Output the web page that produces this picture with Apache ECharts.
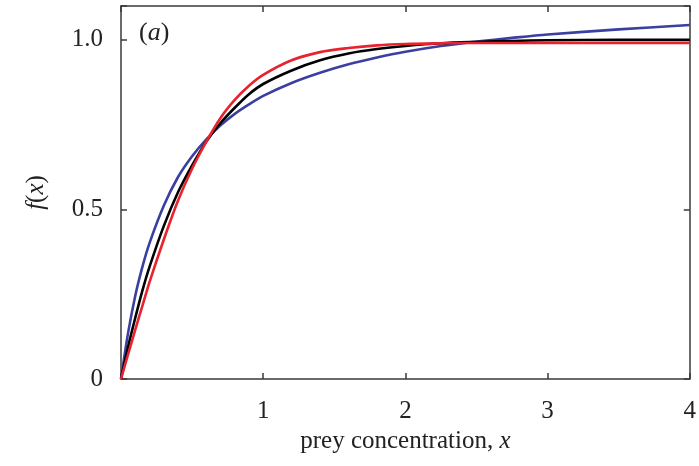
<!DOCTYPE html>
<html>
<head>
<meta charset="utf-8">
<script src="https://cdn.jsdelivr.net/npm/echarts@6/dist/echarts.min.js"></script>
<style>
html,body{margin:0;padding:0;background:#fff;}
#c{width:699px;height:466px;}
</style>
</head>
<body>
<div id="c"></div>
<script>
// prey concentration sample points
const xs = [0,0.05,0.1,0.15,0.2,0.3,0.4,0.5,0.6,0.7,0.8,0.9,1.0,1.2,1.4,1.6,1.8,2.0,2.25,2.5,2.75,3.0,3.5,4.0];
const blueVals  = [0,0.136,0.245,0.33,0.40,0.51,0.595,0.657,0.707,0.748,0.782,0.81,0.835,0.873,0.903,0.928,0.948,0.965,0.982,0.995,1.006,1.016,1.031,1.044];
const blackVals = [0,0.095,0.18,0.26,0.33,0.45,0.55,0.63,0.70,0.755,0.80,0.84,0.87,0.91,0.94,0.96,0.973,0.982,0.99,0.994,0.997,0.999,1.0,1.0];
const redVals   = [0,0.073,0.145,0.215,0.285,0.41,0.525,0.62,0.70,0.77,0.823,0.865,0.897,0.94,0.964,0.976,0.984,0.988,0.99,0.991,0.991,0.991,0.991,0.991];
const xTicks = [1,2,3,4];
const yTicks = [0,0.5,1.0];

function pairs(v){ return xs.map((x,i)=>[x,v[i]]); }

const font = '"Liberation Serif","DejaVu Serif",serif';
const axisCol = '#3a3a3a';
const chart = echarts.init(document.getElementById('c'));

function xLab(v){ return xTicks.indexOf(v) >= 0 ? String(v) : ''; }
function yLab(v){ if (v===0) return '0'; if (Math.abs(v-0.5)<1e-9) return '0.5'; if (Math.abs(v-1)<1e-9) return '1.0'; return ''; }

const lineSt = {show:true,onZero:false,lineStyle:{color:axisCol,width:1.5}};
const tickSt = {show:true,inside:true,length:6,lineStyle:{color:axisCol,width:1.5}};

chart.setOption({
  animation:false,
  backgroundColor:'#fff',
  grid:{left:121,right:6,top:6,bottom:87},
  xAxis:[{
    type:'value',min:0,max:4,interval:1,position:'bottom',
    axisLine:lineSt,axisTick:tickSt,
    axisLabel:{formatter:xLab,fontFamily:font,fontSize:25,color:'#222',margin:20},
    splitLine:{show:false},
    name:'prey concentration, {i|x}',nameLocation:'middle',nameGap:50,
    nameTextStyle:{fontFamily:font,fontSize:25,color:'#222',
      rich:{i:{fontFamily:font,fontStyle:'italic',fontSize:25,color:'#222'}}}
  },{
    type:'value',min:0,max:4,interval:1,position:'top',
    axisLine:lineSt,axisTick:tickSt,
    axisLabel:{show:false},splitLine:{show:false}
  }],
  yAxis:[{
    type:'value',min:0,max:1.1,interval:0.5,position:'left',
    axisLine:lineSt,axisTick:tickSt,
    axisLabel:{formatter:yLab,fontFamily:font,fontSize:25,color:'#222',margin:18},
    splitLine:{show:false},
    name:'{i|f}({i|x})',nameLocation:'middle',nameGap:72,nameRotate:90,
    nameTextStyle:{fontFamily:font,fontSize:25,color:'#222',
      rich:{i:{fontFamily:font,fontStyle:'italic',fontSize:25,color:'#222'}}}
  },{
    type:'value',min:0,max:1.1,interval:0.5,position:'right',
    axisLine:lineSt,axisTick:tickSt,
    axisLabel:{show:false},splitLine:{show:false}
  }],
  graphic:[{
    type:'text',left:139,top:20,
    style:{text:'({i|a})',font:'26px '+font,fill:'#222',
      rich:{i:{fontFamily:font,fontStyle:'italic',fontSize:26,fill:'#222'}}}
  }],
  series:[
    {type:'line',data:pairs(blueVals),smooth:0.3,showSymbol:false,lineStyle:{color:'#3a3fa0',width:2.6},z:2},
    {type:'line',data:pairs(blackVals),smooth:0.3,showSymbol:false,lineStyle:{color:'#000',width:2.6},z:3},
    {type:'line',data:pairs(redVals),smooth:0.3,showSymbol:false,lineStyle:{color:'#e8232d',width:2.6},z:4}
  ]
});
</script>
</body>
</html>
